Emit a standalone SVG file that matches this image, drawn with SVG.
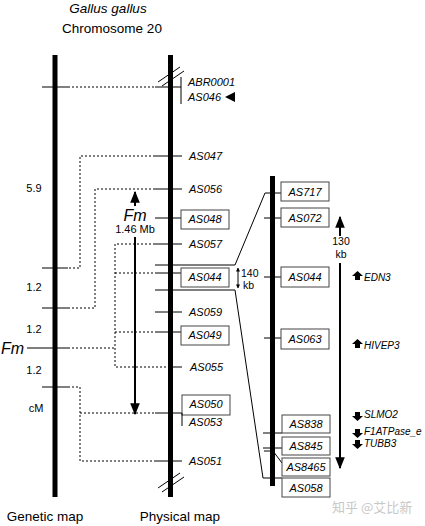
<svg xmlns="http://www.w3.org/2000/svg" width="425" height="526" viewBox="0 0 425 526">
<style>
text{font-family:"Liberation Sans","DejaVu Sans",sans-serif;fill:#000}
.lab{font-size:11px;font-style:italic}
.blab{font-size:11px;font-style:italic;text-anchor:middle}
.gene{font-size:10px;font-style:italic}
.num{font-size:11px;text-anchor:middle}
.title{font-size:13.5px;text-anchor:middle}
.ln{stroke:#000;stroke-width:1;fill:none}
.dot{stroke:#000;stroke-width:1;fill:none;stroke-dasharray:2,2}
.box{fill:#fff;stroke:#444;stroke-width:1}
.bar{fill:#000}
</style>
<defs>
<marker id="ah" viewBox="0 0 10 10" refX="9" refY="5" markerWidth="4" markerHeight="4" orient="auto-start-reverse"><path d="M0,0 L10,5 L0,10 z" fill="#000"/></marker>
<marker id="sah" viewBox="0 0 10 10" refX="9" refY="5" markerWidth="6" markerHeight="6" orient="auto-start-reverse"><path d="M0,1 L10,5 L0,9 z" fill="#000"/></marker>
</defs>

<g id="titles">
<text class="title" x="108" y="13" font-style="italic">Gallus gallus</text>
<text class="title" x="112" y="33">Chromosome 20</text>
<text class="title" x="45" y="521">Genetic map</text>
<text class="title" x="180" y="521">Physical map</text>
</g>

<g id="genetic-map">
<rect class="bar" x="52.5" y="55" width="5" height="442"/>
<line class="ln" x1="42" y1="87" x2="68" y2="87"/>
<line class="ln" x1="42" y1="268" x2="68" y2="268"/>
<line class="ln" x1="42" y1="308" x2="68" y2="308"/>
<line class="ln" x1="27" y1="348" x2="68" y2="348"/>
<line class="ln" x1="42" y1="387" x2="68" y2="387"/>
<text class="num" x="34" y="192">5.9</text>
<text class="num" x="34" y="291">1.2</text>
<text class="num" x="34" y="333">1.2</text>
<text class="num" x="34" y="374">1.2</text>
<text class="num" x="36" y="412">cM</text>
<text x="1" y="354" font-size="16" font-style="italic">Fm</text>
</g>

<g id="physical-map">
<rect class="bar" x="168" y="55" width="5" height="442"/>
<line class="ln" x1="158" y1="82" x2="180" y2="67"/>
<line class="ln" x1="162" y1="86" x2="184" y2="71"/>
<line class="ln" x1="158" y1="488" x2="180" y2="473"/>
<line class="ln" x1="162" y1="492" x2="184" y2="477"/>
<line class="ln" x1="155" y1="87" x2="181" y2="87"/>
<line class="ln" x1="181" y1="77" x2="181" y2="104"/>
<text class="lab" x="188" y="86">ABR0001</text>
<text class="lab" x="188" y="101">AS046</text>
<path d="M225,97 L235,92 L235,102 z" fill="#000"/>
<line class="ln" x1="155" y1="156" x2="182" y2="156"/>
<text class="lab" x="189" y="160">AS047</text>
<line class="ln" x1="155" y1="189" x2="182" y2="189"/>
<text class="lab" x="189" y="193">AS056</text>
<line class="ln" x1="155" y1="218" x2="181" y2="218"/>
<rect class="box" x="181" y="210" width="48" height="19"/>
<text class="blab" x="205" y="223">AS048</text>
<line class="ln" x1="155" y1="244" x2="182" y2="244"/>
<text class="lab" x="189" y="248">AS057</text>
<line class="ln" x1="155" y1="273" x2="181" y2="273"/>
<rect class="box" x="181" y="268" width="48" height="19"/>
<text class="blab" x="205" y="281">AS044</text>
<line class="ln" x1="155" y1="312" x2="182" y2="312"/>
<text class="lab" x="189" y="316">AS059</text>
<line class="ln" x1="155" y1="332" x2="181" y2="332"/>
<rect class="box" x="181" y="326" width="48" height="19"/>
<text class="blab" x="205" y="339">AS049</text>
<line class="ln" x1="170" y1="367" x2="182" y2="367"/>
<text class="lab" x="190" y="371">AS055</text>
<line class="ln" x1="155" y1="413" x2="182" y2="413"/>
<rect class="box" x="182" y="395" width="48" height="20"/>
<text class="blab" x="206" y="408">AS050</text>
<line class="ln" x1="182" y1="413" x2="182" y2="426"/>
<text class="lab" x="189" y="426">AS053</text>
<line class="ln" x1="155" y1="461" x2="182" y2="461"/>
<text class="lab" x="189" y="465">AS051</text>
<line x1="135" y1="206" x2="135" y2="192" stroke="#000" stroke-width="2" marker-end="url(#sah)"/>
<text x="135" y="221" font-size="16" font-style="italic" text-anchor="middle">Fm</text>
<text class="num" x="135" y="233">1.46 Mb</text>
<line x1="135" y1="237" x2="135" y2="414" stroke="#000" stroke-width="2" marker-end="url(#sah)"/>
</g>

<g id="detail-map">
<rect class="bar" x="270" y="176" width="5" height="310"/>
<line class="ln" x1="265" y1="193" x2="281" y2="193"/>
<rect class="box" x="281" y="182" width="48" height="19"/>
<text class="blab" x="305" y="196">AS717</text>
<line class="ln" x1="264" y1="218" x2="281" y2="218"/>
<rect class="box" x="281" y="208" width="48" height="19"/>
<text class="blab" x="305" y="222">AS072</text>
<line class="ln" x1="264" y1="277" x2="281" y2="277"/>
<rect class="box" x="281" y="267" width="48" height="20"/>
<text class="blab" x="305" y="281">AS044</text>
<line class="ln" x1="264" y1="338" x2="281" y2="338"/>
<rect class="box" x="281" y="329" width="48" height="20"/>
<text class="blab" x="305" y="343">AS063</text>
<line class="ln" x1="263" y1="433" x2="282" y2="433"/>
<rect class="box" x="282" y="415" width="48" height="18"/>
<text class="blab" x="306" y="428">AS838</text>
<line class="ln" x1="263" y1="448" x2="282" y2="448"/>
<rect class="box" x="282" y="437" width="48" height="18"/>
<text class="blab" x="306" y="450">AS845</text>
<polyline class="ln" points="264,451 273,451 282,463"/>
<rect class="box" x="282" y="458" width="48" height="18"/>
<text class="blab" x="306" y="471">AS8465</text>
<line class="ln" x1="263" y1="478" x2="282" y2="478"/>
<rect class="box" x="282" y="478" width="48" height="19"/>
<text class="blab" x="306" y="492">AS058</text>
<line x1="340" y1="236" x2="340" y2="217" stroke="#000" stroke-width="2" marker-end="url(#sah)"/>
<text x="341" y="245" font-size="10.5" text-anchor="middle">130</text>
<text x="341" y="258" font-size="10.5" text-anchor="middle">kb</text>
<line x1="340" y1="263" x2="340" y2="468" stroke="#000" stroke-width="2" marker-end="url(#sah)"/>
<path d="M352,276 L357.5,271 L363,276 L360,276 L360,280 L355,280 L355,276 z" fill="#000"/>
<text class="gene" x="364" y="281">EDN3</text>
<path d="M352,344 L357.5,339 L363,344 L360,344 L360,348 L355,348 L355,344 z" fill="#000"/>
<text class="gene" x="364" y="349">HIVEP3</text>
<path d="M352,416 L357.5,421 L363,416 L360,416 L360,412 L355,412 L355,416 z" fill="#000"/>
<text class="gene" x="364" y="418">SLMO2</text>
<path d="M352,433 L357.5,438 L363,433 L360,433 L360,429 L355,429 L355,433 z" fill="#000"/>
<text class="gene" x="364" y="435">F1ATPase_e</text>
<path d="M352,444 L357.5,449 L363,444 L360,444 L360,440 L355,440 L355,444 z" fill="#000"/>
<text class="gene" x="364" y="447">TUBB3</text>
</g>

<g id="connectors">
<line class="dot" x1="68" y1="87" x2="155" y2="87"/>
<polyline class="dot" points="155,156 80,156 80,268 68,268"/>
<polyline class="dot" points="155,189 95,189 95,308 68,308"/>
<polyline class="dot" points="155,244 115,244 115,367 170,367"/>
<line class="dot" x1="115" y1="273" x2="155" y2="273"/>
<line class="dot" x1="115" y1="332" x2="155" y2="332"/>
<line class="dot" x1="68" y1="348" x2="115" y2="348"/>
<polyline class="dot" points="68,387 80,387 80,461 155,461"/>
<line class="dot" x1="80" y1="413" x2="155" y2="413"/>
<polyline class="ln" points="155,265 235,265 265,193"/>
<polyline class="ln" points="155,290 235,290 263,478"/>
<line x1="238" y1="268" x2="238" y2="288" stroke="#000" stroke-width="1" marker-start="url(#ah)" marker-end="url(#ah)"/>
<text x="241" y="277" font-size="10.5">140</text>
<text x="243" y="289" font-size="10.5">kb</text>
</g>

<text x="332" y="512" font-size="13" fill="#c8c8c8" style="fill:#c8c8c8;font-family:'Noto Sans CJK SC',sans-serif">知乎 @艾比新</text>
</svg>
